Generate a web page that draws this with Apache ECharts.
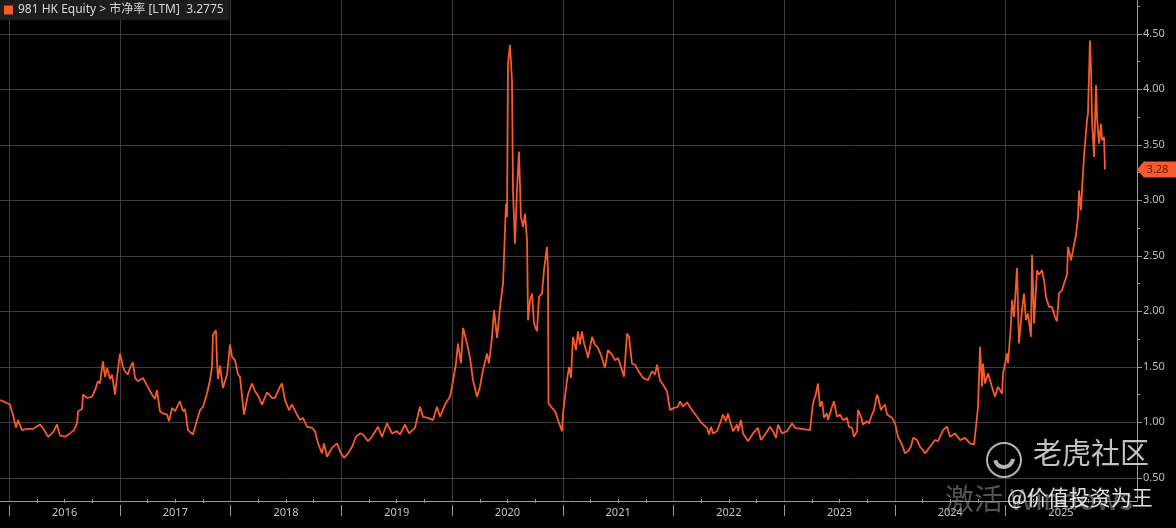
<!DOCTYPE html>
<html><head><meta charset="utf-8">
<script src="https://cdn.jsdelivr.net/npm/echarts@6/dist/echarts.min.js"></script>
<style>html,body{margin:0;padding:0;background:#000;}#c{width:1176px;height:528px;}</style>
</head><body><div id="c"></div>
<script>
const ticker = '981 HK Equity';
const metric = '市净率 [LTM]';
const lastValue = 3.2775;

// dates as decimal years, values = P/B
const d2016 = [2015.916,2015.943,2016.006,2016.033,2016.061,2016.079,2016.115,2016.160,2016.214,2016.277,2016.304,2016.350,2016.395,2016.431,2016.458,2016.503,2016.548,2016.585,2016.612,2016.621,2016.657,2016.666,2016.702,2016.747,2016.774,2016.801,2016.819,2016.846,2016.865,2016.883,2016.910,2016.928,2016.955,2016.973];
const v2016 = [1.20,1.19,1.16,1.07,0.95,1.02,0.93,0.94,0.94,0.98,0.95,0.87,0.91,0.98,0.88,0.87,0.90,0.93,0.99,1.10,1.12,1.25,1.22,1.23,1.29,1.37,1.35,1.55,1.41,1.49,1.39,1.43,1.25,1.41];
const d2017 = [2017.000,2017.027,2017.045,2017.072,2017.090,2017.117,2017.136,2017.163,2017.208,2017.244,2017.289,2017.316,2017.334,2017.361,2017.388,2017.425,2017.443,2017.470,2017.497,2017.542,2017.569,2017.587,2017.614,2017.659,2017.696,2017.723,2017.750,2017.786,2017.813,2017.831,2017.840,2017.867,2017.876,2017.885,2017.903,2017.930,2017.967,2017.994];
const v2017 = [1.62,1.50,1.46,1.43,1.49,1.54,1.40,1.37,1.40,1.33,1.25,1.21,1.29,1.10,1.08,1.07,1.01,1.13,1.10,1.19,1.10,1.12,0.93,0.89,1.02,1.11,1.14,1.26,1.38,1.50,1.79,1.83,1.56,1.39,1.51,1.31,1.43,1.70];
const d2018 = [2018.012,2018.039,2018.066,2018.084,2018.120,2018.156,2018.192,2018.220,2018.247,2018.283,2018.328,2018.373,2018.400,2018.445,2018.463,2018.491,2018.527,2018.554,2018.599,2018.626,2018.653,2018.689,2018.734,2018.762,2018.789,2018.825,2018.843,2018.870,2018.915,2018.960,2018.996];
const v2018 = [1.59,1.56,1.43,1.41,1.07,1.25,1.35,1.28,1.24,1.16,1.27,1.22,1.22,1.32,1.35,1.20,1.11,1.16,1.07,1.02,1.04,0.96,0.95,0.92,0.81,0.72,0.81,0.69,0.77,0.81,0.72];
const d2019 = [2019.024,2019.060,2019.096,2019.132,2019.168,2019.195,2019.240,2019.276,2019.331,2019.367,2019.412,2019.457,2019.502,2019.529,2019.575,2019.611,2019.665,2019.710,2019.737,2019.782,2019.828,2019.864,2019.891,2019.936,2019.981];
const v2019 = [0.68,0.72,0.78,0.87,0.90,0.89,0.83,0.87,0.96,0.87,0.99,0.90,0.92,0.89,0.98,0.90,0.95,1.14,1.05,1.04,1.02,1.14,1.05,1.16,1.23];
const d2020 = [2020.008,2020.035,2020.053,2020.080,2020.099,2020.135,2020.162,2020.189,2020.225,2020.252,2020.279,2020.315,2020.333,2020.360,2020.379,2020.406,2020.433,2020.460,2020.469,2020.487,2020.496,2020.505,2020.523,2020.541,2020.550,2020.568,2020.586,2020.604,2020.622,2020.641,2020.659,2020.677,2020.686,2020.704,2020.722,2020.740,2020.767,2020.785,2020.812,2020.830,2020.857,2020.866,2020.871,2020.902,2020.930,2020.957,2020.993];
const v2020 = [1.37,1.53,1.71,1.53,1.85,1.71,1.58,1.38,1.23,1.32,1.47,1.62,1.53,1.76,2.01,1.76,2.04,2.25,2.49,2.97,2.85,4.23,4.40,4.08,3.09,2.61,3.09,3.44,2.85,2.76,2.88,2.64,1.92,2.10,2.16,1.89,1.82,2.13,2.16,2.37,2.58,2.37,1.17,1.13,1.10,1.02,0.92];
const d2021 = [2021.002,2021.038,2021.056,2021.074,2021.092,2021.119,2021.137,2021.155,2021.173,2021.192,2021.219,2021.228,2021.264,2021.291,2021.318,2021.354,2021.381,2021.408,2021.444,2021.472,2021.499,2021.535,2021.553,2021.580,2021.598,2021.625,2021.652,2021.679,2021.725,2021.770,2021.806,2021.833,2021.851,2021.878,2021.905,2021.941,2021.968];
const v2021 = [1.08,1.38,1.50,1.40,1.77,1.65,1.82,1.70,1.82,1.71,1.62,1.58,1.77,1.70,1.67,1.58,1.49,1.65,1.61,1.56,1.58,1.47,1.41,1.80,1.77,1.53,1.52,1.47,1.40,1.38,1.46,1.43,1.52,1.38,1.34,1.28,1.11];
const d2022 = [2022.005,2022.041,2022.059,2022.086,2022.122,2022.167,2022.212,2022.257,2022.303,2022.321,2022.339,2022.357,2022.393,2022.420,2022.447,2022.474,2022.492,2022.510,2022.538,2022.574,2022.583,2022.610,2022.628,2022.673,2022.718,2022.763,2022.790,2022.827,2022.872,2022.899,2022.926,2022.944,2022.980];
const v2022 = [1.13,1.14,1.19,1.14,1.18,1.11,1.05,0.99,0.95,0.89,0.96,0.90,0.92,0.99,1.07,1.01,1.08,1.01,0.92,0.98,0.92,1.02,0.90,0.83,0.90,0.95,0.84,0.89,0.96,0.92,0.86,0.98,0.90];
const d2023 = [2023.025,2023.071,2023.098,2023.233,2023.260,2023.287,2023.305,2023.323,2023.342,2023.360,2023.387,2023.396,2023.432,2023.450,2023.477,2023.504,2023.531,2023.567,2023.585,2023.613,2023.631,2023.658,2023.667,2023.694,2023.712,2023.748,2023.766,2023.793,2023.811,2023.838,2023.847,2023.874,2023.893,2023.911,2023.929,2023.974];
const v2023 = [0.92,0.99,0.95,0.93,1.17,1.26,1.35,1.14,1.19,1.04,1.08,1.02,1.14,1.19,1.05,1.07,1.02,1.04,0.96,0.95,0.87,0.92,1.11,1.05,0.98,1.01,0.99,1.07,1.11,1.25,1.23,1.11,1.14,1.16,1.07,1.04];
const d2024 = [2024.001,2024.028,2024.064,2024.091,2024.118,2024.145,2024.164,2024.200,2024.227,2024.254,2024.272,2024.317,2024.362,2024.389,2024.435,2024.471,2024.498,2024.543,2024.588,2024.633,2024.678,2024.715,2024.742,2024.751,2024.769,2024.787,2024.796,2024.814,2024.841,2024.877,2024.904,2024.931,2024.968,2024.977];
const v2024 = [0.99,0.87,0.80,0.72,0.74,0.78,0.86,0.84,0.78,0.75,0.72,0.78,0.84,0.83,0.93,0.96,0.87,0.90,0.84,0.86,0.81,0.80,1.05,1.14,1.68,1.32,1.53,1.35,1.44,1.32,1.23,1.32,1.26,1.44];
const d2025 = [2025.013,2025.022,2025.049,2025.058,2025.076,2025.103,2025.121,2025.148,2025.166,2025.184,2025.202,2025.229,2025.239,2025.257,2025.284,2025.302,2025.329,2025.347,2025.365,2025.392,2025.419,2025.446,2025.464,2025.482,2025.510,2025.528,2025.555,2025.564,2025.591,2025.609,2025.636,2025.654,2025.663,2025.681,2025.690,2025.708,2025.735,2025.744,2025.762,2025.772,2025.781,2025.799,2025.817,2025.826,2025.844,2025.862,2025.871,2025.889,2025.898];
const v2025 = [1.62,1.53,1.89,2.10,1.95,2.39,1.71,2.01,2.16,1.92,1.98,1.77,2.51,1.89,2.37,2.33,2.37,2.28,2.13,2.04,2.04,1.95,1.91,2.16,2.19,2.25,2.33,2.58,2.46,2.55,2.69,2.85,3.09,2.91,3.09,3.39,3.72,3.78,4.44,4.17,3.72,3.39,4.04,3.75,3.51,3.69,3.54,3.57,3.2775];

const yearTicks = [2016,2017,2018,2019,2020,2021,2022,2023,2024,2025];
const yearLabelPos = [2016.5,2017.5,2018.5,2019.5,2020.5,2021.5,2022.5,2023.5,2024.5,2025.5];
const yTicks = [0.5,1.0,1.5,2.0,2.5,3.0,3.5,4.0,4.5];
const yMinorTicks = [0.75,1.25,1.75,2.25,2.75,3.25,3.75,4.25,4.75];

const xMin = 2015.916, xMax = 2026.187;
const yMin = 0.291, yMax = 4.805;

const dates = [].concat(d2016,d2017,d2018,d2019,d2020,d2021,d2022,d2023,d2024,d2025);
const values = [].concat(v2016,v2017,v2018,v2019,v2020,v2021,v2022,v2023,v2024,v2025);
const points = dates.map((d, i) => [d, values[i]]);
const quarterTicks = [];
[2015].concat(yearTicks, [2026]).forEach(y => [0.25, 0.5, 0.75].forEach(q => {
  const t = y + q; if (t > xMin && t < xMax) quarterTicks.push(t);
}));

const axisGrey = '#9a9a9a';
const gridGrey = '#3d3d3d';
const lineColor = '#f75a2c';
const font = '"Noto Sans", "Noto Sans CJK SC", sans-serif';

const chart = echarts.init(document.getElementById('c'));
chart.setOption({
  backgroundColor: '#000',
  animation: false,
  grid: { left: 0, right: 39, top: 0, bottom: 27, containLabel: false },
  legend: {
    left: 0, top: 0, data: [ticker],
    backgroundColor: '#1d1d1d', padding: [4, 6, 4, 4],
    icon: 'rect', itemWidth: 9, itemHeight: 9,
    formatter: n => n + ' > ' + metric + '  ' + lastValue,
    textStyle: { color: '#d6d6d6', fontSize: 12, fontFamily: font }
  },
  xAxis: [
    { type: 'value', min: xMin, max: xMax, position: 'bottom',
      axisLine: { show: true, lineStyle: { color: axisGrey } },
      axisTick: { show: false, customValues: yearTicks },
      axisLabel: { show: false },
      splitLine: { show: true, lineStyle: { color: gridGrey } } },
    { type: 'value', min: xMin, max: xMax, position: 'bottom', offset: -2,
      axisLine: { show: false },
      axisTick: { show: true, customValues: quarterTicks, length: 4, lineStyle: { color: axisGrey } },
      axisLabel: { show: false }, splitLine: { show: false } },
    { type: 'value', min: xMin, max: xMax, position: 'bottom', offset: 4,
      axisLine: { show: false },
      axisTick: { show: true, customValues: yearTicks, length: 11, lineStyle: { color: axisGrey } },
      axisLabel: { show: true, customValues: yearLabelPos, formatter: v => String(Math.floor(v)),
                   color: '#c4c4c4', fontSize: 11, margin: 2, fontFamily: font },
      splitLine: { show: false } }
  ],
  yAxis: [
    { type: 'value', position: 'right', min: yMin, max: yMax,
      axisLine: { show: true, lineStyle: { color: axisGrey } },
      axisTick: { show: true, customValues: yTicks, length: 5, lineStyle: { color: axisGrey } },
      axisLabel: { customValues: yTicks, formatter: v => v.toFixed(2), color: '#bcbcbc', fontSize: 11, margin: 6, fontFamily: font },
      splitLine: { show: true, lineStyle: { color: gridGrey } } },
    { type: 'value', position: 'right', min: yMin, max: yMax,
      axisLine: { show: false },
      axisTick: { show: true, customValues: yMinorTicks, length: 3, lineStyle: { color: axisGrey } },
      axisLabel: { show: false }, splitLine: { show: false } }
  ],
  series: [
    { name: ticker, type: 'line', data: points, xAxisIndex: 0, yAxisIndex: 0,
      showSymbol: false, symbol: 'none', clip: true,
      lineStyle: { color: lineColor, width: 1.8 }, itemStyle: { color: lineColor }, z: 3 },
    { name: 'last', type: 'scatter', data: [[xMax, lastValue]], xAxisIndex: 0, yAxisIndex: 0,
      symbol: 'path://M0,8 L7,0 L40,0 L40,16 L7,16 Z', symbolSize: [39, 16], symbolOffset: [19.5, 0],
      symbolKeepAspect: false, clip: false, silent: true, z: 10,
      itemStyle: { color: lineColor, opacity: 1 },
      label: { show: true, position: 'inside', formatter: () => lastValue.toFixed(2), color: '#6a1200', fontSize: 11, offset: [1, 0], fontFamily: font } }
  ],
  graphic: [
    { type: 'circle', shape: { cx: 1004, cy: 460, r: 17 }, style: { fill: 'none', stroke: 'rgba(210,210,210,0.85)', lineWidth: 2 }, z: 100 },
    { type: 'arc', shape: { cx: 1004, cy: 458, r: 9, startAngle: 0.1, endAngle: 2.9 }, style: { fill: 'none', stroke: 'rgba(210,210,210,0.85)', lineWidth: 4 }, z: 100 },
    { type: 'text', x: 1033, y: 438, style: { text: '老虎社区', font: '29px "Noto Sans CJK SC"', fill: 'rgba(215,215,215,0.9)' }, z: 100 },
    { type: 'text', x: 945, y: 484, style: { text: '激活 Windows', font: '29px "Noto Sans CJK SC"', fill: 'rgba(150,150,150,0.55)' }, z: 100 },
    { type: 'text', x: 1007, y: 487, style: { text: '@价值投资为王', font: '21px "Noto Sans CJK SC"', fill: 'rgba(235,235,235,0.95)' }, z: 101 }
  ]
});
</script>
</body></html>
